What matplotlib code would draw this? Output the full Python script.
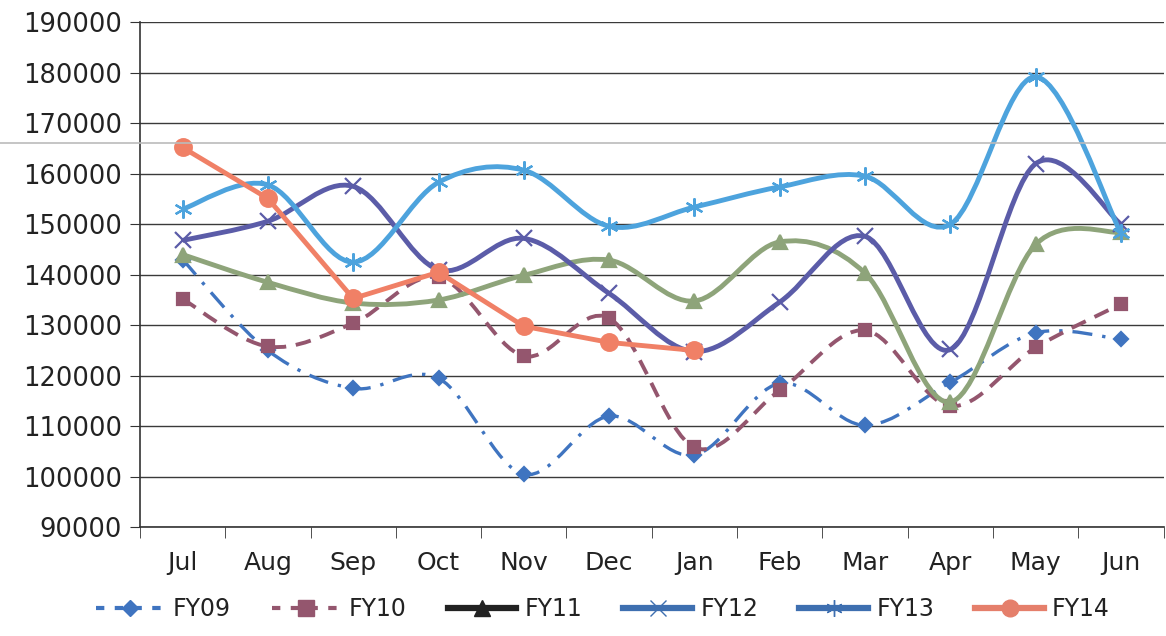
import matplotlib
matplotlib.use("Agg")
import matplotlib.pyplot as plt
import numpy as np
from matplotlib.path import Path
from matplotlib.patches import PathPatch
from matplotlib.lines import Line2D

months = ["Jul", "Aug", "Sep", "Oct", "Nov", "Dec", "Jan", "Feb", "Mar", "Apr", "May", "Jun"]
fy09 = [143000, 125000, 117500, 119500, 100500, 112000, 104300, 118500, 110200, 118700, 128500, 127200]
fy10 = [135200, 125800, 130400, 139500, 123900, 131400, 105800, 117100, 129000, 114000, 125600, 134200]
fy11 = [144000, 138500, 134400, 135000, 139900, 142900, 134800, 146500, 140300, 114800, 146000, 148400]
fy12 = [146800, 150600, 157500, 141000, 147200, 136300, 124800, 134600, 147600, 125200, 162000, 150000]
fy13 = [153000, 157800, 142500, 158300, 160700, 149600, 153400, 157400, 159500, 150000, 179200, 148200]
fy14 = [165200, 155100, 135300, 140500, 129800, 126600, 125000]


def smooth_path(xs, ys):
    # excel-like smoothed line: cubic bezier between points
    pts = np.column_stack([xs, ys]).astype(float)
    n = len(pts)
    verts = [pts[0]]
    codes = [Path.MOVETO]
    for i in range(n - 1):
        p0 = pts[i - 1] if i > 0 else pts[i]
        p1 = pts[i]
        p2 = pts[i + 1]
        p3 = pts[i + 2] if i + 2 < n else pts[i + 1]
        c1 = p1 + (p2 - p0) / 6
        c2 = p2 - (p3 - p1) / 6
        verts += [c1, c2, p2]
        codes += [Path.CURVE4] * 3
    return Path(verts, codes)


fig = plt.figure(figsize=(11.66, 6.36), dpi=100)
ax = fig.add_axes([0.12, 0.171, 0.878, 0.794])

x = np.arange(len(months))

series = [
    (fy09, "#3f74c0", "D", 7, (0, (6, 3, 1, 3)), 2.4, True),
    (fy10, "#94566e", "s", 9, (0, (4, 2.5)), 2.8, True),
    (fy11, "#8ea47a", "^", 10, "-", 3.5, True),
    (fy12, "#5b5ca8", "x", 11, "-", 3.5, True),
    (fy13, "#4da3dd", (6, 2, 0), 13, "-", 3.5, True),
    (fy14, "#f08066", "o", 12, "-", 3.5, False),
]

for k, (vals, col, mk, ms, ls, lw, smooth) in enumerate(series):
    xs = x[:len(vals)]
    if smooth:
        patch = PathPatch(smooth_path(xs, vals), fill=False, edgecolor=col,
                          linewidth=lw, linestyle=ls, zorder=3 + k)
        ax.add_patch(patch)
    else:
        ax.plot(xs, vals, color=col, linewidth=lw, linestyle=ls, zorder=3 + k)
    ax.plot(xs, vals, linestyle="none", marker=mk, markersize=ms, color=col,
            markeredgecolor=col, markeredgewidth=1.6, zorder=3.5 + k)

ax.set_xlim(-0.47, 11.5)
ax.set_ylim(90000, 190000)
ax.set_yticks(np.arange(90000, 190001, 10000))
ax.set_xticks(x)
ax.set_xticklabels(months)
ax.set_xticks(np.arange(-0.5, 11.6, 1), minor=True)
ax.tick_params(axis="x", which="major", length=0, pad=17, labelsize=18, labelcolor="#222222")
ax.tick_params(axis="x", which="minor", length=8, color="#333333")
ax.tick_params(axis="y", length=7, pad=6, labelsize=18.5, color="#333333", labelcolor="#222222")
ax.grid(axis="y", color="#3a3a3a", linewidth=1.0)
ax.set_axisbelow(True)
for side in ("top", "right"):
    ax.spines[side].set_visible(False)
for side in ("left", "bottom"):
    ax.spines[side].set_color("#333333")
    ax.spines[side].set_linewidth(1.2)

# faint scan line across the page
fig.add_artist(Line2D([0, 1], [1 - 143 / 636, 1 - 143 / 636], color="#bbbbbb", linewidth=1.2))

handles = [
    Line2D([], [], color="#3f74c0", marker="D", markersize=8, linewidth=3, linestyle=(0, (2, 2.5))),
    Line2D([], [], color="#94566e", marker="s", markersize=11, linewidth=3, linestyle=(0, (2, 2.5))),
    Line2D([], [], color="#222222", marker="^", markersize=11, linewidth=4.5),
    Line2D([], [], color="#3e6fb0", marker="x", markersize=11, linewidth=4.5),
    Line2D([], [], color="#3e6fb0", marker=(6, 2, 0), markersize=12, linewidth=4.5),
    Line2D([], [], color="#e57f6b", marker="o", markersize=12, linewidth=4.5),
]
labels = ["FY09", "FY10", "FY11", "FY12", "FY13", "FY14"]
fig.legend(handles, labels, loc="center", bbox_to_anchor=(0.517, 0.042), ncol=6,
           frameon=False, fontsize=17, handlelength=2.9, columnspacing=1.75,
           handletextpad=0.35, labelcolor="#222222")

fig.savefig("out.png", dpi=100)
